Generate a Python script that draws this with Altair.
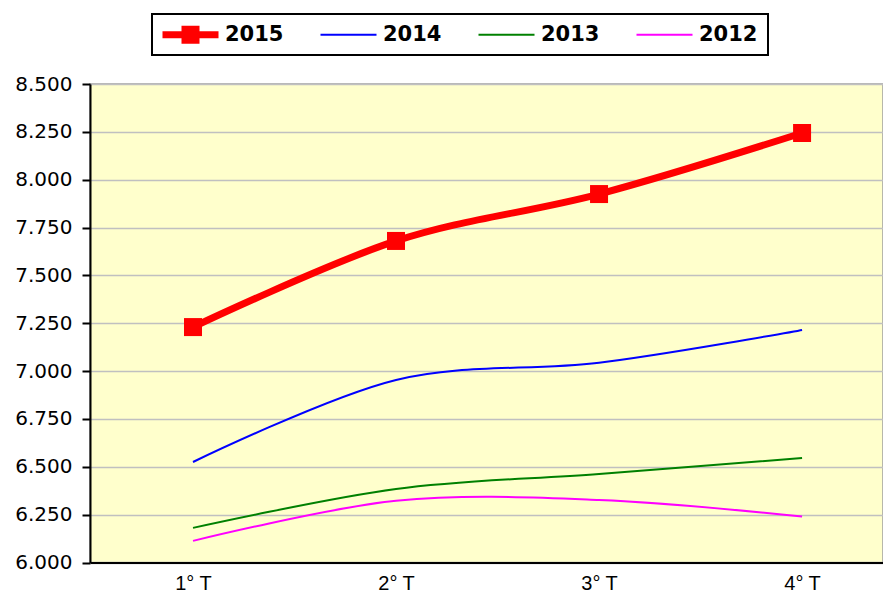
import altair as alt
import pandas as pd

quarters = ["1° T", "2° T", "3° T", "4° T"]
series = ["2015", "2014", "2013", "2012"]
v2015 = [7230, 7680, 7925, 8244]
v2014 = [6525, 6954, 7044, 7215]
v2013 = [6181, 6384, 6463, 6546]
v2012 = [6113, 6322, 6327, 6240]
colors = ["#FF0000", "#0000FF", "#008000", "#FF00FF"]
widths = [7, 2, 2, 2]
y_ticks = [6000, 6250, 6500, 6750, 7000, 7250, 7500, 7750, 8000, 8250, 8500]

rows = []
for s, vals in zip(series, [v2015, v2014, v2013, v2012]):
    for q, v in zip(quarters, vals):
        rows.append({"trimestre": q, "serie": s, "valor": v})
df = pd.DataFrame(rows)

# legend symbols (unit = 10 px): a line sample with / without the square marker
path_2015 = ("M-1,-0.35L4.6,-0.35L4.6,0.35L-1,0.35Z "
             "M0.9,-0.9L2.7,-0.9L2.7,0.9L0.9,0.9Z")
path_line = "M-1,-0.1L4.6,-0.1L4.6,0.1L-1,0.1Z"
shapes = [path_2015, path_line, path_line, path_line]

x = alt.X(
    "trimestre:O",
    sort=quarters,
    scale=alt.Scale(type="point", padding=0.453, align=0.56),
    axis=alt.Axis(
        title=None,
        labelAngle=0,
        ticks=False,
        grid=False,
        domainColor="black",
        domainWidth=2,
        labelFont="Liberation Sans",
        labelFontSize=20,
        labelColor="black",
        labelPadding=11,
    ),
)
y = alt.Y(
    "valor:Q",
    scale=alt.Scale(domain=[6000, 8500], nice=False, zero=False),
    axis=alt.Axis(
        title=None,
        values=y_ticks,
        labelExpr="replace(format(datum.value, ',.0f'), ',', '.')",
        labelFont="DejaVu Sans",
        labelFontSize=20,
        labelColor="black",
        labelPadding=10,
        tickSize=8,
        tickColor="black",
        tickWidth=2,
        domainColor="black",
        domainWidth=2,
        gridColor="#C0C0C0",
        gridWidth=1.5,
    ),
)

base = alt.Chart(df)

# thin lines first (2012, 2013, 2014), then the thick 2015 line on top
line_layers = []
for s, c, w in list(zip(series, colors, widths))[::-1]:
    line_layers.append(
        base.transform_filter(f"datum.serie === '{s}'")
        .mark_line(interpolate="cardinal", strokeWidth=w, color=c)
        .encode(x=x, y=y)
    )

pts = base.transform_filter("datum.serie === '2015'").mark_point(
    shape="square", filled=True, size=324, opacity=1, color=colors[0]
).encode(x=x, y=y)

legend = alt.Legend(
    title=None,
    orient="none",
    legendX=62,
    legendY=-70,
    direction="horizontal",
    columns=4,
    columnPadding=36,
    padding=10,
    fillColor="white",
    strokeColor="black",
    labelFont="DejaVu Sans",
    labelFontWeight="bold",
    labelFontSize=21,
    labelColor="black",
    labelOffset=42,
    symbolSize=400,
    symbolOpacity=1,
    symbolStrokeWidth=0,
)

legend_layer = base.mark_point(filled=True, opacity=0).encode(
    x=x,
    y=y,
    color=alt.Color("serie:N", scale=alt.Scale(domain=series, range=colors), legend=legend),
    shape=alt.Shape("serie:N", scale=alt.Scale(domain=series, range=shapes), legend=legend),
)

chart = alt.layer(*line_layers, pts, legend_layer).properties(
    width=793,
    height=478.5,
    autosize=alt.AutoSizeParams(type="none"),
    padding={"left": 82, "top": 76, "right": 0, "bottom": 32},
).configure_view(
    fill="#FFFFCC", stroke="#A0A0A0", strokeWidth=1.5
).configure_legend(
    strokeWidth=2
)

chart.save("out.html", embed_options={"renderer": "svg", "actions": False})
